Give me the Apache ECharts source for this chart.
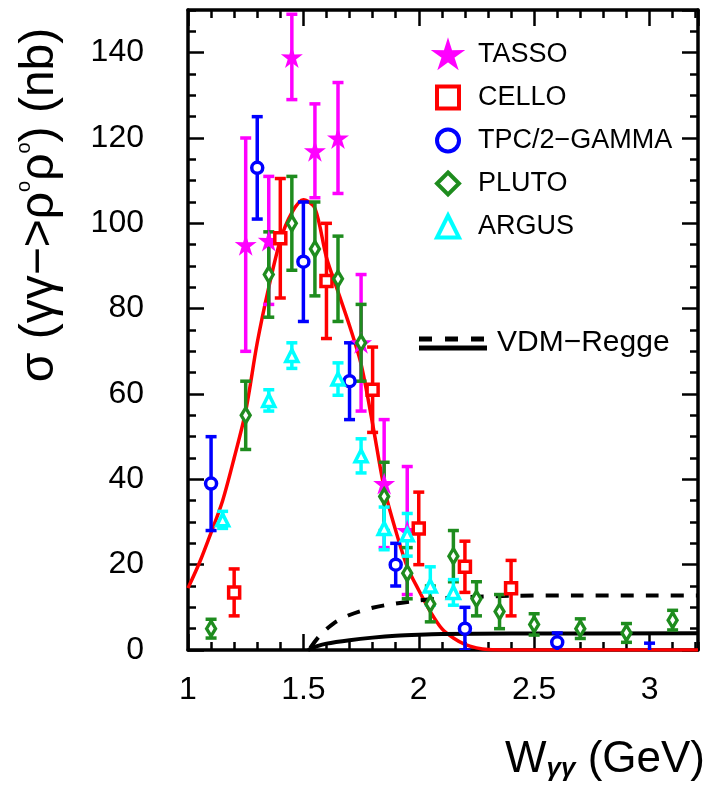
<!DOCTYPE html>
<html><head><meta charset="utf-8">
<script src="https://cdn.jsdelivr.net/npm/echarts@6/dist/echarts.min.js"></script>
<style>html,body{margin:0;padding:0;background:#fff}#c{width:708px;height:785px}</style>
</head><body><div id="c"></div>
<script>
// ---- axis ranges / ticks ----
const xMin = 1, xMax = 3.21, xMajor = 0.5, xMinor = 0.1;
const yMin = 0, yMax = 150, yMajor = 20, yMinor = 5;

// ---- data: TASSO ----
const tassoX   = [1.25, 1.35, 1.45, 1.55, 1.65, 1.75, 1.85, 1.95];
const tassoY   = [95, 96, 139, 117, 120, 72, 39, 28];
const tassoErr = [25, 15, 10, 11, 13, 16, 15, 15];
// ---- CELLO ----
const celloX   = [1.2, 1.4, 1.6, 1.8, 2.0, 2.2, 2.4];
const celloY   = [13.5, 96.5, 86.5, 61, 28.5, 19.5, 14.5];
const celloErr = [5.5, 14, 13.5, 10, 8.5, 6, 6.5];
// ---- TPC/2-GAMMA ----
const tpcX   = [1.1, 1.3, 1.5, 1.7, 1.9, 2.2, 2.6];
const tpcY   = [39, 113, 91, 63, 20, 5, 1.8];
const tpcErr = [11, 12, 14, 9, 5, 5, 2.2];
const tpcBarOnlyX = [3.0], tpcBarOnlyY = [0.5], tpcBarOnlyErr = [1.1];
// ---- PLUTO ----
const plutoX   = [1.1, 1.25, 1.35, 1.45, 1.55, 1.65, 1.75, 1.85, 1.95, 2.05, 2.15, 2.25, 2.35, 2.5, 2.7, 2.9, 3.1];
const plutoY   = [5, 55, 88, 100, 94, 87, 72, 36, 18, 10.8, 22, 12, 9, 6, 5, 4, 7];
const plutoErr = [2.2, 8, 10, 11, 11, 10, 9, 8, 6, 4.2, 6, 4, 4, 2.5, 2.3, 2.2, 2.3];
// ---- ARGUS ----
const argusX   = [1.15, 1.35, 1.45, 1.65, 1.75, 1.85, 1.95, 2.05, 2.15];
const argusY   = [30.5, 58.5, 69, 63.5, 45.5, 28.5, 27, 15, 13.5];
const argusErr = [2, 2.5, 3, 3.8, 4, 5, 5, 4.5, 3];
// ---- curves ----
const fitX = [1.0, 1.05, 1.1, 1.15, 1.2, 1.25, 1.3, 1.35, 1.4, 1.45, 1.5, 1.55, 1.6, 1.65, 1.7, 1.75, 1.8, 1.85, 1.9, 1.95, 2.0, 2.05, 2.1, 2.15, 2.2, 2.25, 2.3, 2.4, 3.21];
const fitY = [14.5, 20.5, 27.5, 35, 45, 56, 72, 85, 96, 102.5, 105.5, 103.5, 92, 84, 76, 67, 53, 38, 28, 19.5, 14, 9, 5, 2.8, 1.3, 0.5, 0.1, 0, 0];
const vdmDashX = [1.53, 1.57, 1.63, 1.7, 1.8, 1.9, 2.0, 2.1, 2.2, 2.4, 2.7, 3.0, 3.21];
const vdmDashY = [0.5, 3.3, 6.2, 8.2, 9.9, 10.9, 11.6, 12.1, 12.4, 12.7, 12.8, 12.8, 12.8];
const vdmSolidX = [1.52, 1.56, 1.6, 1.7, 1.8, 1.9, 2.0, 2.1, 2.4, 3.21];
const vdmSolidY = [0, 0.9, 1.5, 2.3, 2.9, 3.35, 3.6, 3.75, 3.85, 3.9];

const FONT = '"Liberation Sans", Arial, sans-serif';
const C = {tasso:'#ff00ff', cello:'#ff0000', tpc:'#0000ff', pluto:'#1e8c1e', argus:'#00ffff'};
const STAR = 'path://M0,-10L2.2,-3L9.5,-3.1L3.6,1.2L5.9,8.1L0,3.8L-5.9,8.1L-3.6,1.2L-9.5,-3.1L-2.2,-3Z';

function errSeries(name, color, xs, ys, errs) {
  return {
    type: 'custom', name: name, xAxisIndex: 0, yAxisIndex: 0, clip: true, z: 3,
    data: xs.map((x, i) => [x, ys[i] - errs[i], ys[i] + errs[i]]),
    encode: {x: 0, y: [1, 2]},
    silent: true,
    renderItem: function (params, api) {
      const x = api.value(0);
      const lo = api.coord([x, api.value(1)]);
      const hi = api.coord([x, api.value(2)]);
      const cw = 5.5;
      const st = {stroke: color, lineWidth: 3.5};
      return {type: 'group', children: [
        {type: 'line', shape: {x1: lo[0], y1: lo[1], x2: hi[0], y2: hi[1]}, style: st},
        {type: 'line', shape: {x1: lo[0] - cw, y1: lo[1], x2: lo[0] + cw, y2: lo[1]}, style: st},
        {type: 'line', shape: {x1: hi[0] - cw, y1: hi[1], x2: hi[0] + cw, y2: hi[1]}, style: st}
      ]};
    }
  };
}
function ptSeries(name, color, symbol, size, xs, ys, hollow) {
  return {
    type: 'scatter', name: name, xAxisIndex: 0, yAxisIndex: 0, symbol: symbol, symbolSize: size, z: 4,
    data: xs.map((x, i) => [x, ys[i]]),
    itemStyle: hollow ? {color: '#fff', borderColor: color, borderWidth: 3.5, opacity: 1}
                      : {color: color, borderColor: color, borderWidth: 0, opacity: 1},
    emphasis: {disabled: true}, silent: true
  };
}
function lineSeries(name, xs, ys, color, width, dash) {
  return {
    type: 'line', name: name, xAxisIndex: 0, yAxisIndex: 0, showSymbol: false, smooth: 0.3, z: 2,
    data: xs.map((x, i) => [x, ys[i]]),
    lineStyle: {color: color, width: width, type: dash || 'solid'},
    silent: true, clip: true
  };
}

function xAx(pos, interval, tickLen, withLine, withLabel) {
  return {
    type: 'value', position: pos, min: xMin, max: xMax, interval: interval,
    axisLine: {show: withLine, onZero: false, lineStyle: {color: '#000', width: 3.5}},
    axisTick: {show: true, inside: true, length: tickLen, lineStyle: {color: '#000', width: 2.5}},
    axisLabel: {show: withLabel, fontSize: 32, color: '#000', fontFamily: FONT, margin: 24, showMaxLabel: false},
    splitLine: {show: false}
  };
}
function yAx(pos, interval, tickLen, withLine, withLabel) {
  return {
    type: 'value', position: pos, min: yMin, max: yMax, interval: interval,
    axisLine: {show: withLine, onZero: false, lineStyle: {color: '#000', width: 3.5}},
    axisTick: {show: true, inside: true, length: tickLen, lineStyle: {color: '#000', width: 2.5}},
    axisLabel: {show: withLabel, fontSize: 32, color: '#000', fontFamily: FONT, margin: 44, showMaxLabel: false},
    splitLine: {show: false}
  };
}

const chart = echarts.init(document.getElementById('c'), null, {renderer: 'canvas'});
chart.setOption({
  animation: false,
  backgroundColor: '#fff',
  grid: {left: 188, right: 10, top: 10, bottom: 135},
  xAxis: [
    xAx('bottom', xMajor, 16, true, true),
    xAx('bottom', xMinor, 8, false, false),
    xAx('top', xMajor, 16, true, false),
    xAx('top', xMinor, 8, false, false)
  ],
  yAxis: [
    yAx('left', yMajor, 16, true, true),
    yAx('left', yMinor, 8, false, false),
    yAx('right', yMajor, 16, true, false),
    yAx('right', yMinor, 8, false, false)
  ],
  legend: {
    orient: 'vertical', left: 430, top: 36, itemWidth: 22, itemHeight: 22, itemGap: 16,
    selectedMode: false,
    data: ['TASSO', 'CELLO', 'TPC/2−GAMMA', 'PLUTO', 'ARGUS'],
    itemStyle: {borderWidth: 4},
    textStyle: {fontSize: 27, color: '#000', fontFamily: FONT, padding: [0, 0, 0, 14]}
  },
  series: [
    lineSeries('fit', fitX, fitY, '#ff0000', 3.5),
    lineSeries('vdmDash', vdmDashX, vdmDashY, '#000', 4, [13, 12]),
    lineSeries('vdmSolid', vdmSolidX, vdmSolidY, '#000', 4),
    errSeries('tassoErr', C.tasso, tassoX, tassoY, tassoErr),
    errSeries('celloErr', C.cello, celloX, celloY, celloErr),
    errSeries('tpcErr', C.tpc, tpcX, tpcY, tpcErr),
    errSeries('tpcErr2', C.tpc, tpcBarOnlyX, tpcBarOnlyY, tpcBarOnlyErr),
    errSeries('plutoErr', C.pluto, plutoX, plutoY, plutoErr),
    errSeries('argusErr', C.argus, argusX, argusY, argusErr),
    ptSeries('TASSO', C.tasso, STAR, 22, tassoX, tassoY, false),
    ptSeries('CELLO', C.cello, 'rect', 11, celloX, celloY, true),
    ptSeries('TPC/2−GAMMA', C.tpc, 'circle', 11, tpcX, tpcY, true),
    ptSeries('PLUTO', C.pluto, 'diamond', [9, 15], plutoX, plutoY, true),
    ptSeries('ARGUS', C.argus, 'triangle', 12, argusX, argusY, true)
  ],
  graphic: [
    {type: 'line', shape: {x1: 419, y1: 339, x2: 487, y2: 339}, style: {stroke: '#000', lineWidth: 5, lineDash: [13, 13]}},
    {type: 'line', shape: {x1: 419, y1: 348, x2: 487, y2: 348}, style: {stroke: '#000', lineWidth: 5}},
    {type: 'text', x: 497, y: 343, style: {text: 'VDM−Regge', fontSize: 30, fontFamily: FONT, fill: '#000', verticalAlign: 'middle', align: 'left'}},
    {type: 'text', x: 40, y: 205, rotation: Math.PI / 2,
      style: {
        text: '{a|σ (γγ−>ρ}{s|o}{a|ρ}{s|o}{a|) (nb)}',
        align: 'center', verticalAlign: 'middle',
        rich: {
          a: {fontSize: 48, fontFamily: FONT, fill: '#000', lineHeight: 52},
          s: {fontSize: 20, fontFamily: FONT, fill: '#000', verticalAlign: 'top', lineHeight: 20}
        }
      }},
    {type: 'text', x: 505, y: 760,
      style: {
        text: '{a|W}{b|γγ}{a| (GeV)}',
        align: 'left', verticalAlign: 'middle',
        rich: {
          a: {fontSize: 44, fontFamily: FONT, fill: '#000', verticalAlign: 'top', lineHeight: 44},
          b: {fontSize: 26, fontFamily: FONT, fontWeight: 'bold', fontStyle: 'italic', fill: '#000', verticalAlign: 'bottom', lineHeight: 26, padding: [30, 0, 0, 0]}
        }
      }}
  ]
});
</script></body></html>
